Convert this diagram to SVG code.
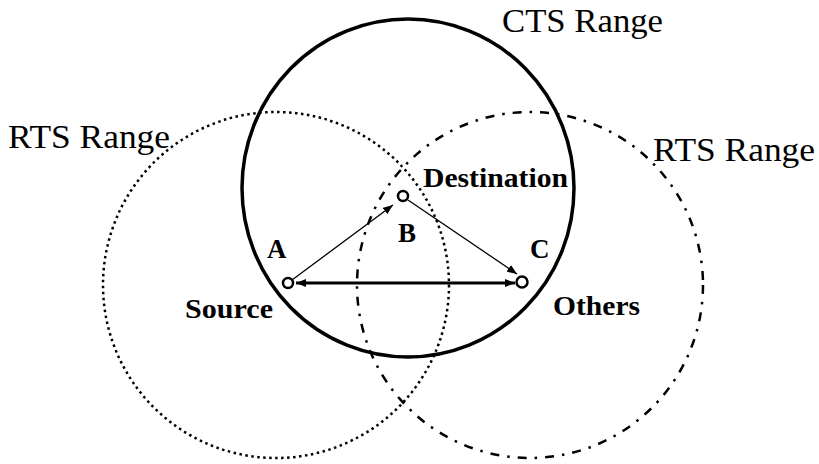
<svg xmlns="http://www.w3.org/2000/svg" width="819" height="464" viewBox="0 0 819 464">
<style>
.range{font-family:"Liberation Serif",serif;font-size:34px;fill:#000}
.lbl{font-family:"Liberation Serif",serif;font-size:27px;font-weight:bold;fill:#000}
.node{fill:#fff;stroke:#000;stroke-width:2.5}
.thin{stroke:#000;stroke-width:1.3;fill:none}
.thick{stroke:#000;stroke-width:3;fill:none}
</style>
<defs>
<marker id="ah" viewBox="0 0 10 8" refX="10" refY="4" markerWidth="10" markerHeight="8" markerUnits="userSpaceOnUse" orient="auto-start-reverse">
<path d="M0,0 L10,4 L0,8 Z" fill="#000"/>
</marker>
</defs>
<rect width="819" height="464" fill="#fff"/>
<g id="ranges">
<ellipse id="cts" cx="408" cy="188" rx="166" ry="169" fill="none" stroke="#000" stroke-width="3.5"/>
<circle id="rts-left" cx="276" cy="285" r="173" fill="none" stroke="#000" stroke-width="2.5" stroke-dasharray="2.5 3.5"/>
<circle id="rts-right" cx="530" cy="285" r="173" fill="none" stroke="#000" stroke-width="2.5" stroke-dasharray="9 8 2.5 8"/>
</g>
<g id="connectors">
<line class="thin" x1="292" y1="280" x2="393" y2="205" marker-end="url(#ah)"/>
<line class="thin" x1="408" y1="200" x2="517" y2="274" marker-end="url(#ah)"/>
<line class="thick" x1="296" y1="283" x2="515" y2="283" marker-start="url(#ah)" marker-end="url(#ah)"/>
</g>
<g id="node-a">
<circle class="node" cx="288" cy="283" r="5"/>
<text class="lbl" x="267" y="258">A</text>
<text class="lbl" x="185" y="318" textLength="88" lengthAdjust="spacingAndGlyphs">Source</text>
</g>
<g id="node-b">
<circle class="node" cx="403" cy="196" r="5"/>
<text class="lbl" x="398" y="242">B</text>
<text class="lbl" x="423" y="187" textLength="145" lengthAdjust="spacingAndGlyphs">Destination</text>
</g>
<g id="node-c">
<circle class="node" cx="522" cy="282" r="5.5"/>
<text class="lbl" x="530" y="258">C</text>
<text class="lbl" x="553" y="315" textLength="87" lengthAdjust="spacingAndGlyphs">Others</text>
</g>
<g id="labels">
<text class="range" x="502" y="32" textLength="161" lengthAdjust="spacingAndGlyphs">CTS Range</text>
<text class="range" x="8" y="148" textLength="162" lengthAdjust="spacingAndGlyphs">RTS Range</text>
<text class="range" x="653" y="161" textLength="162" lengthAdjust="spacingAndGlyphs">RTS Range</text>
</g>
</svg>
